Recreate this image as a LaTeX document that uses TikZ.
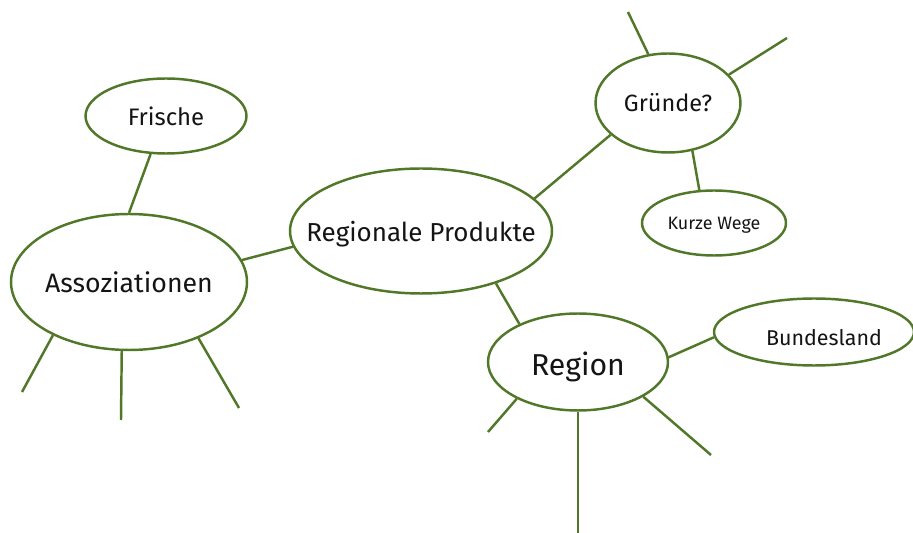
\documentclass[tikz,border=0pt]{standalone}
\usepackage{fontspec}
\setmainfont{Fira Sans}
\usetikzlibrary{shapes.geometric}

\definecolor{leaf}{RGB}{80,120,40}
\definecolor{ink}{RGB}{20,20,20}

\tikzset{
  idea/.style = {ellipse, draw=leaf, line width=1.4pt, inner sep=0, text=ink},
  twig/.style = {draw=leaf, line width=1.4pt},
}
% text of a bubble, kept from widening the ellipse (optional drop)
\newcommand{\idtext}[2][0pt]{\makebox[0pt]{\raisebox{-#1}[\height][\depth]{#2}}}

\begin{document}
\begin{tikzpicture}[x=0.02cm, y=-0.02cm]
    \useasboundingbox (0,0) rectangle (913,533);

    % bubbles
    \node[idea, minimum width=3.22cm, minimum height=1.5cm,  font=\fontsize{13.6}{16}\selectfont] (frische) at (166,116) {\idtext{Frische}};
    \node[idea, minimum width=4.72cm, minimum height=2.72cm, font=\fontsize{15.2}{18}\selectfont] (assoz)   at (129,282) {\idtext{Assoziationen}};
    \node[idea, minimum width=5.24cm, minimum height=2.5cm,  font=\fontsize{14.8}{18}\selectfont] (produkt) at (421,231) {\idtext[2pt]{Regionale Produkte}};
    \node[idea, minimum width=2.9cm,  minimum height=1.98cm, font=\fontsize{13.4}{16}\selectfont] (gruende) at (668,103) {\idtext{Gründe?}};
    \node[idea, minimum width=2.88cm, minimum height=1.3cm,  font=\fontsize{10.2}{12}\selectfont] (wege)    at (714,223) {\idtext[1.5pt]{Kurze Wege}};
    \node[idea, minimum width=3.6cm,  minimum height=1.94cm, font=\fontsize{17.2}{20}\selectfont] (region)  at (578,362) {\idtext[3pt]{Region}};
    \node[idea, minimum width=4.0cm,  minimum height=1.34cm, font=\fontsize{12.2}{14}\selectfont] (land)    at (814,332) {\idtext[3pt]{\hspace{0.4cm}Bundesland}};

    % loose ends
    \coordinate (a1) at (22,392);
    \coordinate (a2) at (121,420);
    \coordinate (a3) at (239,408);
    \coordinate (g1) at (628,12);
    \coordinate (g2) at (787,38);
    \coordinate (r1) at (488,432);
    \coordinate (r2) at (578,533);
    \coordinate (r3) at (711,455);

    % links between bubbles
    \draw[twig] (frische.-112) -- (assoz.90);
    \draw[twig] (assoz.11)     -- (produkt.-173);
    \draw[twig] (produkt.16.5) -- (gruende.-151.5);
    \draw[twig] (gruende.-63)  -- (wege.114);
    \draw[twig] (produkt.-35)  -- (region.147.5);
    \draw[twig] (region.3)     -- (land.-177);

    % empty branches
    \draw[twig] (assoz.-145)   -- (a1);
    \draw[twig] (assoz.-96.7)  -- (a2);
    \draw[twig] (assoz.-39.5)  -- (a3);
    \draw[twig] (gruende.112)  -- (g1);
    \draw[twig] (gruende.25)   -- (g2);
    \draw[twig] (region.-149)  -- (r1);
    \draw[twig] (region.-90)   -- (r2);
    \draw[twig] (region.-28)   -- (r3);
\end{tikzpicture}
\end{document}
